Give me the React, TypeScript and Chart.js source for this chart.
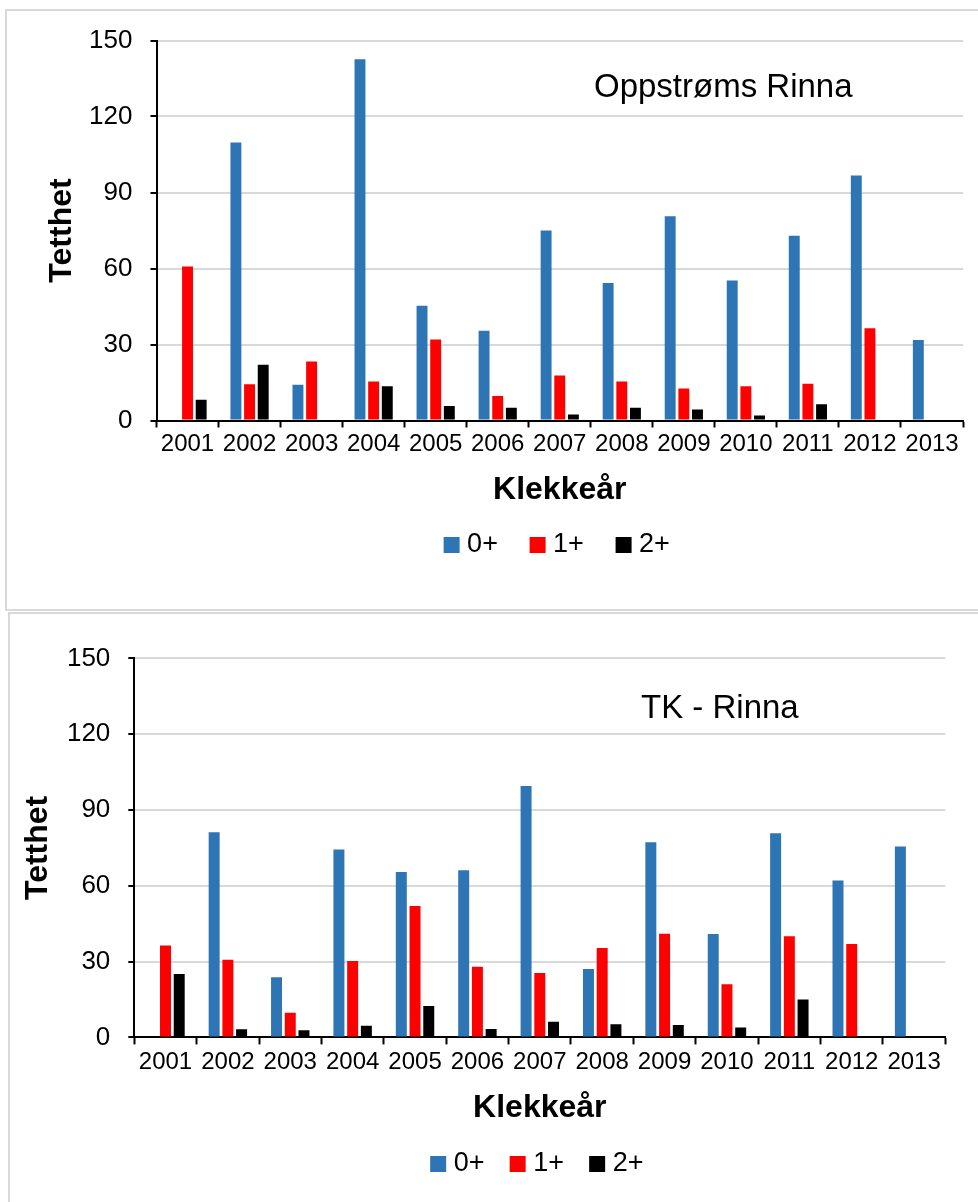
import React, { useEffect, useRef } from 'react';
import { Chart, registerables } from 'chart.js';

Chart.register(...registerables);

// ---------- data ----------
const years = ['2001', '2002', '2003', '2004', '2005', '2006', '2007', '2008', '2009', '2010', '2011', '2012', '2013'];
const seriesLabels = ['0+', '1+', '2+'];
const seriesColors = ['#2E75B6', '#FF0000', '#000000'];

const yMin = 0;
const yMax = 150;
const yStep = 30;

const xAxisTitle = 'Klekkeår';
const yAxisTitle = 'Tetthet';

const topTitle = 'Oppstrøms Rinna';
const top0 = [null, 109.7, 14.1, 142.6, 45.3, 35.4, 75.0, 54.3, 80.6, 55.3, 72.9, 96.7, 31.8];
const top1 = [60.8, 14.3, 23.3, 15.4, 32.0, 9.7, 17.8, 15.4, 12.6, 13.5, 14.5, 36.4, null];
const top2 = [8.2, 22.0, 0.4, 13.5, 5.7, 5.0, 2.4, 5.0, 4.3, 2.0, 6.4, null, null];

const bottomTitle = 'TK - Rinna';
const bot0 = [null, 81.2, 23.8, 74.4, 65.5, 66.2, 99.5, 27.1, 77.2, 40.9, 80.8, 62.1, 75.6];
const bot1 = [36.4, 30.7, 9.8, 30.2, 52.0, 28.0, 25.5, 35.4, 41.0, 21.0, 40.0, 37.0, null];
const bot2 = [25.1, 3.2, 2.8, 4.6, 12.4, 3.3, 6.2, 5.2, 4.9, 3.9, 15.0, null, null];

// ---------- styling / layout ----------
const FONT = '"Liberation Sans", Arial, sans-serif';

type Layout = {
  canvasTop: number;
  height: number;
  padTop: number;
  padRight: number;
  padBottom: number;
  yAxisW: number;
  xAxisH: number;
  xTickPad: number;
  xTitlePad: number;
  yTitlePad: number;
  legendPad: number;
  titleX: number;
  titleY: number;
};

const topLayout: Layout = {
  canvasTop: 0,
  height: 610,
  padTop: 40.5,
  padRight: 15,
  padBottom: 41.5,
  yAxisW: 156.5,
  xAxisH: 73.3,
  xTickPad: 2.2,
  xTitlePad: -15.4,
  yTitlePad: 42.8,
  legendPad: 37.7,
  titleX: 594,
  titleY: 97,
};

const bottomLayout: Layout = {
  canvasTop: 610,
  height: 592,
  padTop: 48.4,
  padRight: 32.7,
  padBottom: 14.5,
  yAxisW: 134.3,
  xAxisH: 81.9,
  xTickPad: 3.2,
  xTitlePad: -7.9,
  yTitlePad: 18.8,
  legendPad: 31.2,
  titleX: 641,
  titleY: 108,
};

const titleTextPlugin = {
  id: 'titleText',
  afterDraw(chart: any) {
    const o = chart.options.plugins.titleText;
    if (!o) return;
    const ctx = chart.ctx;
    ctx.save();
    ctx.font = `33px ${FONT}`;
    ctx.fillStyle = '#000';
    ctx.textBaseline = 'alphabetic';
    ctx.textAlign = 'left';
    ctx.fillText(o.text, o.x, o.y);
    ctx.restore();
  },
};

function makeConfig(values: (number | null)[][], title: string, L: Layout): any {
  return {
    type: 'bar',
    data: {
      labels: years,
      datasets: values.map((v, i) => ({
        label: seriesLabels[i],
        data: v,
        backgroundColor: seriesColors[i],
        borderWidth: 0,
        categoryPercentage: 0.66,
        barPercentage: 0.8,
      })),
    },
    options: {
      responsive: false,
      animation: false,
      events: [],
      layout: { padding: { top: L.padTop, right: L.padRight, bottom: L.padBottom, left: 0 } },
      plugins: {
        tooltip: { enabled: false },
        title: { display: false },
        titleText: { text: title, x: L.titleX, y: L.titleY },
        legend: {
          position: 'bottom',
          fullSize: false,
          labels: {
            font: { family: FONT, size: 27 },
            color: '#000',
            usePointStyle: true,
            pointStyle: 'rect',
            boxWidth: 4,
            boxHeight: 16,
            padding: L.legendPad,
          },
        },
      },
      scales: {
        x: {
          grid: {
            offset: true,
            drawOnChartArea: false,
            drawTicks: true,
            tickLength: 7,
            tickColor: '#000',
            tickWidth: 2,
          },
          border: { color: '#000', width: 2 },
          ticks: {
            font: { family: FONT, size: 24 },
            color: '#000',
            padding: L.xTickPad,
            maxRotation: 0,
            autoSkip: false,
          },
          title: {
            display: true,
            text: xAxisTitle,
            font: { family: FONT, size: 32, weight: 'bold' },
            color: '#000',
            padding: { top: 0, bottom: L.xTitlePad },
          },
          afterFit: (s: any) => {
            s.height = L.xAxisH;
          },
        },
        y: {
          min: yMin,
          max: yMax,
          ticks: {
            stepSize: yStep,
            font: { family: FONT, size: 26 },
            color: '#000',
            padding: 18,
          },
          grid: {
            color: (c: any) => (c.tick && c.tick.value === 0 ? 'rgba(0,0,0,0)' : '#d9d9d9'),
            lineWidth: 2,
            tickLength: 6,
            tickColor: '#000',
            tickWidth: 2,
          },
          border: { color: '#000', width: 2 },
          title: {
            display: true,
            text: yAxisTitle,
            font: { family: FONT, size: 32, weight: 'bold' },
            color: '#000',
            padding: { top: L.yTitlePad, bottom: 0 },
          },
          afterFit: (s: any) => {
            s.width = L.yAxisW;
          },
        },
      },
    },
    plugins: [titleTextPlugin],
  };
}

function ChartBox({ values, title, layout }: { values: (number | null)[][]; title: string; layout: Layout }) {
  const ref = useRef<HTMLCanvasElement | null>(null);
  useEffect(() => {
    if (!ref.current) return;
    const chart = new Chart(ref.current, makeConfig(values, title, layout));
    return () => chart.destroy();
  }, []);
  return (
    <canvas
      ref={ref}
      width={978}
      height={layout.height}
      style={{ position: 'absolute', left: 0, top: layout.canvasTop, width: 978, height: layout.height }}
    />
  );
}

export default function App() {
  return (
    <div
      style={{
        position: 'absolute',
        left: 0,
        top: 0,
        width: 978,
        height: 1202,
        overflow: 'hidden',
        background: '#fff',
      }}
    >
      <div
        style={{
          position: 'absolute',
          left: 5,
          top: 9,
          width: 1100,
          height: 598,
          border: '2px solid #d9d9d9',
        }}
      />
      <div
        style={{
          position: 'absolute',
          left: 8,
          top: 612,
          width: 1100,
          height: 800,
          border: '2px solid #d9d9d9',
        }}
      />
      <ChartBox values={[top0, top1, top2]} title={topTitle} layout={topLayout} />
      <ChartBox values={[bot0, bot1, bot2]} title={bottomTitle} layout={bottomLayout} />
    </div>
  );
}
